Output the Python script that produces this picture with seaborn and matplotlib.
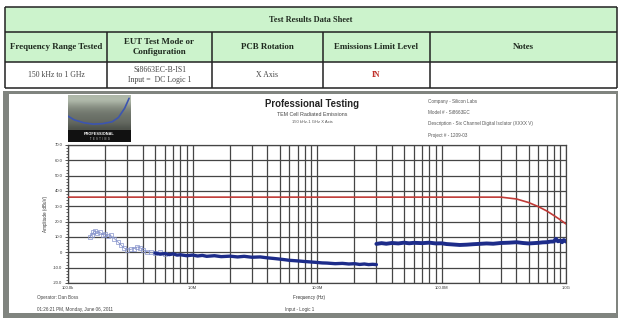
import numpy as np
import pandas as pd
import matplotlib
matplotlib.use("Agg")
import matplotlib.pyplot as plt
from matplotlib.patches import Rectangle
from matplotlib.ticker import FixedLocator, NullFormatter
import seaborn as sns

# ---------------- data ----------------
table_title = "Test Results Data Sheet"
table_headers = ["Frequency Range Tested", "EUT Test Mode or\nConfiguration",
                 "PCB Rotation", "Emissions Limit Level", "Notes"]
table_values = ["150 kHz to 1 GHz", "Si8663EC-B-IS1\nInput =  DC Logic 1",
                "X Axis", "IN", ""]

# low-frequency sweep (light markers), MHz / dBuV
lf_freq = [0.150, 0.155, 0.160, 0.165, 0.170, 0.180, 0.190, 0.200, 0.210,
           0.220, 0.235, 0.250, 0.265, 0.280, 0.300, 0.320, 0.340, 0.360,
           0.380, 0.400, 0.430, 0.460, 0.500, 0.550, 0.600]
lf_amp = [10.0, 11.5, 13.0, 14.0, 12.5, 13.0, 11.5, 12.0, 10.5,
          11.0, 9.0, 7.0, 5.0, 3.0, 1.5, 2.0, 2.5, 3.5,
          3.0, 1.5, 0.5, 0.0, -0.5, 0.0, -1.0]

# band 1 (dense trace up to 30 MHz)
b1_freq = [0.50, 0.55, 0.60, 0.65, 0.70, 0.75, 0.80, 0.90, 1.0, 1.1, 1.2,
           1.3, 1.5, 1.7, 2.0, 2.3, 2.6, 3.0, 3.5, 4.0, 4.5, 5.0, 5.5, 6.0,
           7.0, 8.0, 9.0, 10.0, 11.0, 12.0, 14.0, 16.0, 18.0, 20.0, 22.0,
           24.0, 26.0, 28.0, 30.0]
b1_amp = [-0.5, -1.2, -0.8, -1.5, -1.0, -1.8, -1.6, -2.2, -1.8, -2.4, -2.0,
          -2.6, -2.2, -2.8, -2.5, -3.0, -2.6, -3.2, -3.0, -3.6, -4.0, -4.4, -4.8, -5.2,
          -5.6, -6.0, -6.3, -6.6, -6.9, -7.0, -7.4, -7.2, -7.6, -7.4, -7.9,
          -7.6, -8.0, -7.8, -8.0]

# band 2 (dense trace 30 MHz - 1 GHz)
b2_freq = [30, 33, 36, 40, 45, 50, 55, 60, 70, 80, 90, 100, 110, 120, 140,
           160, 180, 200, 230, 260, 300, 350, 400, 450, 500, 550, 600, 650,
           700, 750, 800, 830, 860, 900, 930, 960, 1000]
b2_amp = [5.5, 6.0, 5.6, 6.1, 5.8, 6.3, 5.9, 6.2, 6.0, 6.3, 5.8, 5.9, 5.4, 5.2, 4.8,
          5.0, 5.3, 5.5, 5.8, 5.6, 6.1, 6.3, 6.6, 6.1, 5.8, 6.0, 6.2, 6.5,
          6.6, 7.0, 7.1, 8.8, 7.2, 7.6, 6.6, 8.0, 7.0]

# emissions limit (MHz / dBuV)
lim_freq = [0.1, 1.0, 10.0, 100.0, 300.0, 400.0, 500.0, 600.0, 700.0, 800.0, 900.0, 1000.0]
lim_amp = [36.0, 36.0, 36.0, 36.0, 36.0, 34.8, 32.5, 29.8, 27.0, 24.0, 21.2, 18.5]

y_ticks = [70, 60, 50, 40, 30, 20, 10, 0, -10, -20]
y_tick_labels = ["70.0", "60.0", "50.0", "40.0", "30.0", "20.0", "10.0", "0", "-10.0", "-20.0"]
x_ticks = [0.1, 1.0, 10.0, 100.0, 1000.0]
x_tick_labels = ["100.0k", "1.0M", "10.0M", "100.0M", "1.0G"]

info_lines = ["Company - Silicon Labs", "Model # - Si8663EC",
              "Description - Six Channel Digital Isolator (XXXX V)", "Project # - 1209-03"]

# ---------------- figure ----------------
sns.set_style("white")
plt.rcParams['font.family'] = ['Liberation Sans', 'DejaVu Sans']
W, H = 621, 318
fig = plt.figure(figsize=(W / 100, H / 100), dpi=100)
fig.patch.set_facecolor("white")

bg = fig.add_axes([0, 0, 1, 1])
bg.set_xlim(0, W)
bg.set_ylim(H, 0)
bg.axis("off")

# ---- table ----
green = "#ccf3cc"
tl, tr = 5, 617
rows = [7, 32, 62, 88]
cols = [tl, 107, 212, 323, 430, tr]
bg.add_patch(Rectangle((tl, rows[0]), tr - tl, rows[2] - rows[0], fc=green, ec="none"))
for y in rows:
    bg.plot([tl, tr], [y, y], color="#222", lw=1.1, solid_capstyle="butt")
for x in cols:
    y0 = rows[0] if x in (tl, tr) else rows[1]
    bg.plot([x, x], [y0, rows[3]], color="#222", lw=1.1, solid_capstyle="butt")
bg.text((tl + tr) / 2, (rows[0] + rows[1]) / 2, table_title, ha="center", va="center",
        fontsize=6.0, fontweight="bold", family="Liberation Serif", color="#1f2a1f")
for i, h in enumerate(table_headers):
    cx = (cols[i] + cols[i + 1]) / 2
    bg.text(cx, (rows[1] + rows[2]) / 2, h, ha="center", va="center", fontsize=6.4,
            fontweight="bold", family="Liberation Serif", color="#1f2a1f", linespacing=1.4)
for i, v in enumerate(table_values):
    cx = (cols[i] + cols[i + 1]) / 2
    col = "#444" if i != 3 else "#c0302a"
    fw = "bold" if i == 3 else "normal"
    bg.text(cx, (rows[2] + rows[3]) / 2, v, ha="center", va="center", fontsize=5.6,
            family="Liberation Serif", color=col, fontweight=fw, linespacing=1.35)

# ---- chart frame ----
bg.add_patch(Rectangle((3, 91), 615, 227, fc="#80847f", ec="none"))
bg.add_patch(Rectangle((9, 93.5), 607, 219, fc="white", ec="none"))

# header texts
bg.text(312, 104, "Professional Testing", ha="center", va="center", fontsize=6.9,
        fontweight="bold", color="#222")
bg.text(312, 114, "TEM Cell Radiated Emissions", ha="center", va="center", fontsize=3.8,
        color="#444")
bg.text(312, 122, "150 kHz-1 GHz X Axis", ha="center", va="center", fontsize=3.0,
        color="#555")
for k, t in enumerate(info_lines):
    bg.text(428, [102, 113, 124, 136][k], t, ha="left", va="center", fontsize=3.3, color="#555")

bg.text(45, 214, "Amplitude (dBuV)", rotation=90, ha="center", va="center", fontsize=3.3, color="#333")
bg.text(309, 297, "Frequency (Hz)", ha="center", va="center", fontsize=3.3, color="#333")
bg.text(37, 298, "Operator: Dan Boss", ha="left", va="center", fontsize=3.3, color="#444")
bg.text(37, 310, "01:26:21 PM, Monday, June 06, 2011", ha="left", va="center", fontsize=3.3, color="#444")
bg.text(285, 310, "Input - Logic 1", ha="left", va="center", fontsize=3.3, color="#444")

# ---- logo ----
lg = fig.add_axes([68 / W, 1 - 142 / H, 63 / W, 47 / H])
lg.set_xlim(0, 1)
lg.set_ylim(0, 1)
lg.axis("off")
grad = np.array([[0.72], [0.74], [0.64], [0.56], [0.50], [0.46], [0.44], [0.42], [0.38], [0.32]])
grad_rgb = np.dstack([grad * 0.95, grad, grad * 0.92])
lg.imshow(grad_rgb, extent=[0, 1, 0.26, 1], aspect="auto", interpolation="bicubic")
lg.add_patch(Rectangle((0, 0), 1, 0.26, fc="#111", ec="none"))
logo_x = [0.0, 0.1, 0.25, 0.4, 0.55, 0.7, 0.8, 0.9, 0.97]
logo_y = [0.55, 0.47, 0.41, 0.38, 0.39, 0.43, 0.52, 0.72, 0.93]
lg.plot(logo_x, logo_y, color="#3c55b0", lw=1.2)
lg.text(0.5, 0.17, "PROFESSIONAL", ha="center", va="center", fontsize=2.8, color="white",
        fontweight="bold")
lg.text(0.5, 0.06, "T  E  S  T  I  N  G", ha="center", va="center", fontsize=1.8, color="#ddd")

# ---- main plot ----
pl, pr, pt, pb = 68, 566, 145, 283
ax = fig.add_axes([pl / W, 1 - pb / H, (pr - pl) / W, (pb - pt) / H])
ax.set_xscale("log")

lim_df = pd.DataFrame({"f": lim_freq, "a": lim_amp})
lf_df = pd.DataFrame({"f": lf_freq, "a": lf_amp})
b1_df = pd.DataFrame({"f": b1_freq, "a": b1_amp})
b2_df = pd.DataFrame({"f": b2_freq, "a": b2_amp})

sns.lineplot(data=lim_df, x="f", y="a", ax=ax, color="#c03a36", lw=1.2, zorder=4)
sns.lineplot(data=lf_df, x="f", y="a", ax=ax, color="#8794cc", lw=0.6, marker="s",
             markersize=2.2, markerfacecolor="none", markeredgecolor="#8794cc",
             markeredgewidth=0.5, zorder=4)
sns.lineplot(data=b1_df, x="f", y="a", ax=ax, color="#1d2c8a", lw=2.4, zorder=4)
sns.lineplot(data=b2_df, x="f", y="a", ax=ax, color="#1d2c8a", lw=2.8, zorder=4)

ax.set_xlim(0.1, 1000)
ax.set_ylim(-20, 70)
ax.set_xlabel("")
ax.set_ylabel("")
ax.set_yticks(y_ticks)
ax.set_yticklabels(y_tick_labels)
ax.yaxis.set_minor_locator(FixedLocator(list(range(-20, 71, 2))))
minor_x = [m * 10.0 ** e for e in range(-1, 3) for m in range(2, 10)]
ax.set_xticks(x_ticks)
ax.set_xticklabels(x_tick_labels)
ax.xaxis.set_minor_locator(FixedLocator(minor_x))
ax.xaxis.set_minor_formatter(NullFormatter())
ax.grid(True, which="major", axis="both", color="#454545", lw=0.9)
ax.grid(True, which="minor", axis="x", color="#454545", lw=0.9)
ax.set_axisbelow(True)
ax.tick_params(axis="y", which="major", length=2.5, width=0.6, labelsize=3.0,
               pad=1.5, colors="#333", left=True)
ax.tick_params(axis="y", which="minor", length=1.3, width=0.5, left=True)
ax.tick_params(axis="x", which="both", length=0, labelsize=3.0, pad=2, colors="#333")
for s in ax.spines.values():
    s.set_color("#454545")
    s.set_linewidth(0.9)
if ax.get_legend():
    ax.get_legend().remove()

fig.savefig("out.png", dpi=100)
